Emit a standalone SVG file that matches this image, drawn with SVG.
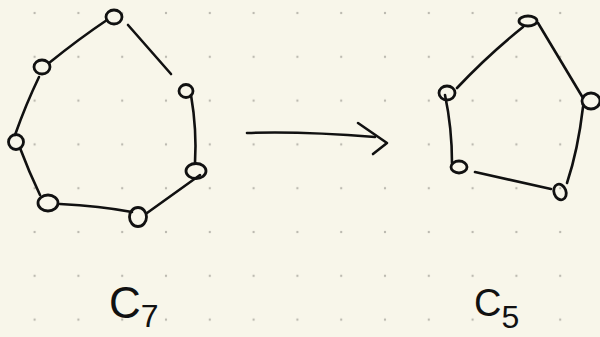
<svg xmlns="http://www.w3.org/2000/svg" width="600" height="337" viewBox="0 0 600 337">
<defs>
<pattern id="dots" x="34.6" y="13" width="43.8" height="43.8" patternUnits="userSpaceOnUse">
<circle cx="0" cy="0" r="1.2" fill="#bcbab0"/>
<circle cx="43.8" cy="0" r="1.2" fill="#bcbab0"/>
<circle cx="0" cy="43.8" r="1.2" fill="#bcbab0"/>
<circle cx="43.8" cy="43.8" r="1.2" fill="#bcbab0"/>
</pattern>
<style>
.node{fill:none;stroke:#111;stroke-width:2.8}
.edge{fill:none;stroke:#111;stroke-width:2.6;stroke-linecap:round;stroke-linejoin:round}
.lbl{font-family:"Liberation Sans",Arial,sans-serif;fill:#111}
</style>
</defs>
<rect width="600" height="337" fill="#f8f6ea"/>
<rect width="600" height="337" fill="url(#dots)"/>

<g id="connectors">
<path class="edge" d="M107,20 Q80,38 49,63"/>
<path class="edge" d="M39,77 Q26,104 15,135"/>
<path class="edge" d="M20,148 Q29,172 40,195"/>
<path class="edge" d="M60,204 Q100,206 132,212"/>
<path class="edge" d="M147,213 L200,175"/>
<path class="edge" d="M191,95 Q197,130 195,163"/>
<path class="edge" d="M128,25 L171,74"/>
<path class="edge" d="M523,27 Q488,55 457,88"/>
<path class="edge" d="M538,23 L583,98"/>
<path class="edge" d="M445,95 Q452,128 452,163"/>
<path class="edge" d="M475,172 L551,189"/>
<path class="edge" d="M583,107 Q578,150 567,183"/>
<path class="edge" d="M247,133 Q300,131 375,137"/>
<path class="edge" d="M358,123 L387,143 L373,154" stroke-width="3"/>
</g>

<g id="c7-n1"><ellipse class="node" cx="114" cy="17" rx="8" ry="7"/></g>
<g id="c7-n2"><ellipse class="node" cx="42" cy="67" rx="8" ry="7"/></g>
<g id="c7-n3"><ellipse class="node" cx="16" cy="142" rx="7.5" ry="7.5"/></g>
<g id="c7-n4"><ellipse class="node" cx="48" cy="203" rx="10" ry="8"/></g>
<g id="c7-n5"><ellipse class="node" cx="138" cy="217" rx="8.5" ry="9.5"/></g>
<g id="c7-n6"><ellipse class="node" cx="196" cy="171" rx="10" ry="7.5"/></g>
<g id="c7-n7"><ellipse class="node" cx="186" cy="91" rx="7" ry="6.5"/></g>

<g id="c5-n1"><ellipse class="node" cx="528" cy="21" rx="9" ry="5"/></g>
<g id="c5-n2"><ellipse class="node" cx="447" cy="93" rx="8" ry="7"/></g>
<g id="c5-n3"><ellipse class="node" cx="591" cy="101" rx="9" ry="8"/></g>
<g id="c5-n4"><ellipse class="node" cx="459" cy="167" rx="8" ry="6"/></g>
<g id="c5-n5"><ellipse class="node" cx="560" cy="192" rx="6" ry="8" transform="rotate(-20 560 192)"/></g>

<g id="label-c7"><text class="lbl" x="109" y="318" font-size="44">C<tspan font-size="32" dy="9">7</tspan></text></g>
<g id="label-c5"><text class="lbl" x="474" y="316" font-size="38">C<tspan font-size="32" dy="12">5</tspan></text></g>
</svg>
